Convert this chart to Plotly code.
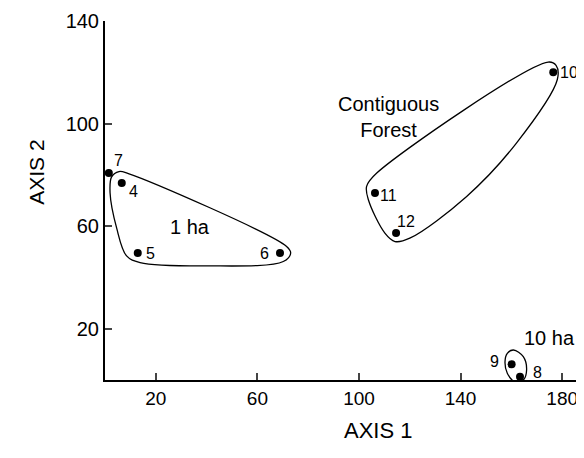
import plotly.graph_objects as go

# stand ordination scores
stand_ids = ["4", "5", "6", "7", "8", "9", "10", "11", "12"]
axis1 = [6.6, 12.9, 68.9, 1.5, 163.4, 160.1, 176.5, 106.3, 114.6]
axis2 = [76.8, 49.5, 49.5, 80.7, 1.3, 6.1, 120.0, 72.9, 57.3]

# hand-drawn group outlines
hull_1ha_x = [9.2, 71.5, 73.1, 70.2, 40.0, 13.8, 8.5, 4.6, 2.0, 2.6, 5.5]
hull_1ha_y = [80.5, 52.1, 49.5, 46.2, 44.5, 45.8, 48.4, 59.2, 72.9, 79.2, 81.3]
hull_forest_x = [107.0, 174.5, 177.6, 178.1, 162.0, 142.4, 120.0, 114.2, 110.2, 103.7, 103.0]
hull_forest_y = [80.7, 124.0, 122.7, 117.2, 92.4, 71.6, 55.3, 54.0, 57.3, 70.3, 75.5]
hull_10ha_x = [160.8, 164.7, 166.0, 164.7, 161.4, 158.4, 157.5, 158.4]
hull_10ha_y = [11.7, 9.1, 3.9, 0.0, -0.7, 2.6, 7.1, 10.4]

group_names = ["1 ha", "Contiguous<br>Forest", "10 ha"]
group_x = [33.5, 111.8, 175.2]
group_y = [59.8, 102.7, 16.3]

x_ticks = [20, 60, 100, 140, 180]
y_ticks = [20, 60, 100, 140]

font = "Liberation Sans, Arial, sans-serif"

# label offsets in pixels from each dot
label_shift = {"7": (10, 13), "4": (12, -8), "5": (13, 0), "6": (-15, 0),
               "10": (16, 0), "11": (14, -2), "12": (10, 12),
               "9": (-17, 3), "8": (17, 4)}

fig = go.Figure()

for hx, hy in [(hull_1ha_x, hull_1ha_y), (hull_forest_x, hull_forest_y), (hull_10ha_x, hull_10ha_y)]:
    fig.add_trace(go.Scatter(x=hx + hx[:1], y=hy + hy[:1], mode="lines",
                             line=dict(color="black", width=1.3, shape="spline", smoothing=1.0),
                             hoverinfo="skip", cliponaxis=False))

fig.add_trace(go.Scatter(x=axis1, y=axis2, mode="markers",
                         marker=dict(color="black", size=8), cliponaxis=False))

for sid, xv, yv in zip(stand_ids, axis1, axis2):
    dx, dy = label_shift[sid]
    fig.add_annotation(x=xv, y=yv, text=sid, showarrow=False, xshift=dx, yshift=dy,
                       font=dict(family=font, size=16, color="black"))

for name, gx, gy in zip(group_names, group_x, group_y):
    fig.add_annotation(x=gx, y=gy, text=name, showarrow=False, align="center",
                       font=dict(family=font, size=20, color="black"))

fig.add_annotation(xref="paper", yref="paper", x=0.57, y=-0.181, text="AXIS 1",
                   showarrow=False, font=dict(family=font, size=22, color="black"))
fig.add_annotation(xref="paper", yref="paper", x=-0.171, y=0.579, text="AXIS 2",
                   textangle=-90, showarrow=False, font=dict(family=font, size=21, color="black"))

fig.update_xaxes(range=[0, 188.6], tickvals=x_ticks, ticks="inside", ticklen=7, tickwidth=2,
                 showline=True, linecolor="black", linewidth=2, showgrid=False, zeroline=False,
                 tickfont=dict(family=font, size=19, color="black"))
fig.update_yaxes(range=[0, 140], tickvals=y_ticks, ticks="inside", ticklen=7, tickwidth=2,
                 showline=True, linecolor="black", linewidth=2, showgrid=False, zeroline=False,
                 tickfont=dict(family=font, size=20, color="black"))

# page body has an 8px margin, so the figure is shifted by that much
fig.update_layout(width=576, height=450, showlegend=False,
                  plot_bgcolor="white", paper_bgcolor="white",
                  margin=dict(l=97, r=0, t=13, b=78))

fig.write_html("out.html")
